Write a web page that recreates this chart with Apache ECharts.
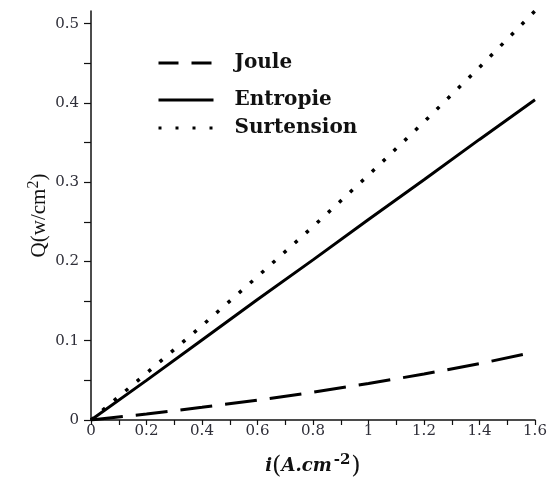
<!DOCTYPE html>
<html>
<head>
<meta charset="utf-8">
<script src="https://cdn.jsdelivr.net/npm/echarts@6/dist/echarts.min.js"></script>
<style>
html,body{margin:0;padding:0;background:#fff;}
#chart{width:550px;height:477px;}
</style>
</head>
<body>
<div id="chart"></div>
<script>
// Data
const currentI = [0, 0.2, 0.4, 0.6, 0.8, 1.0, 1.2, 1.4, 1.6];
const joule = [0, 0.0075, 0.016, 0.025, 0.035, 0.046, 0.058, 0.071, 0.086];
const entropie = [0, 0.05, 0.101, 0.152, 0.202, 0.253, 0.303, 0.354, 0.404];
const surtension = [0, 0.059, 0.119, 0.181, 0.244, 0.309, 0.376, 0.445, 0.516];
const seriesNames = ['Joule', 'Entropie', 'Surtension'];
const xTickLabels = [0, 0.2, 0.4, 0.6, 0.8, 1.0, 1.2, 1.4, 1.6];
const xTicks = [0, 0.1, 0.2, 0.3, 0.4, 0.5, 0.6, 0.7, 0.8, 0.9, 1.0, 1.1, 1.2, 1.3, 1.4, 1.5, 1.6];
const yTickLabels = [0, 0.1, 0.2, 0.3, 0.4, 0.5];
const yTicks = [0, 0.05, 0.1, 0.15, 0.2, 0.25, 0.3, 0.35, 0.4, 0.45, 0.5];

const pairs = (ys) => currentI.map((x, k) => [x, ys[k]]);

const labelColor = '#2e2e38';
const axisColor = '#111';

const legendText = {
  fontFamily: 'DejaVu Serif',
  fontWeight: 'bold',
  fontSize: 20,
  color: '#111',
  lineHeight: 22,
  padding: [0, 0, 0, 16]
};

function makeLegend(name, top, lineType) {
  return {
    data: [name],
    left: 157,
    top: top,
    orient: 'vertical',
    itemWidth: 55,
    itemHeight: 14,
    padding: 0,
    selectedMode: false,
    textStyle: legendText,
    itemStyle: { opacity: 0, borderWidth: 0 },
    lineStyle: { type: lineType, width: 3, color: '#000' }
  };
}

const chart = echarts.init(document.getElementById('chart'), null, { renderer: 'canvas' });
chart.setOption({
  animation: false,
  backgroundColor: '#fff',
  grid: { left: 91, right: 15, top: 11, bottom: 57, containLabel: false, outerBoundsMode: 'none' },
  legend: [
    makeLegend(seriesNames[0], 52, [20, 13]),
    makeLegend(seriesNames[1], 89, 'solid'),
    makeLegend(seriesNames[2], 117, [3, 14])
  ],
  xAxis: {
    type: 'value',
    min: 0,
    max: 1.6,
    interval: 0.2,
    axisLine: { show: true, onZero: false, lineStyle: { color: axisColor, width: 1.5 } },
    axisTick: { show: true, inside: false, length: 5, customValues: xTicks, lineStyle: { color: axisColor, width: 1.2 } },
    axisLabel: {
      customValues: xTickLabels,
      margin: 4,
      fontFamily: 'DejaVu Serif',
      fontSize: 15,
      color: labelColor
    },
    splitLine: { show: false },
    name: '{i|i}{p|(}{a|A.cm}{s|-2}{p|)}',
    nameLocation: 'middle',
    nameGap: 33,
    nameTextStyle: {
      rich: {
        i: { fontFamily: 'DejaVu Serif', fontStyle: 'italic', fontWeight: 'bold', fontSize: 18, color: '#111' },
        a: { fontFamily: 'DejaVu Serif', fontStyle: 'italic', fontWeight: 'bold', fontSize: 18, color: '#111' },
        p: { fontFamily: 'DejaVu Serif', fontSize: 24, color: '#111' },
        s: { fontFamily: 'DejaVu Serif', fontWeight: 'bold', fontSize: 15, color: '#111', padding: [0, 1, 12, 2] }
      }
    }
  },
  yAxis: {
    type: 'value',
    min: 0,
    max: 0.516,
    interval: 0.1,
    axisLine: { show: true, onZero: false, lineStyle: { color: axisColor, width: 1.5 } },
    axisTick: { show: true, inside: false, length: 7, customValues: yTicks, lineStyle: { color: axisColor, width: 1.2 } },
    axisLabel: {
      customValues: yTickLabels,
      margin: 12,
      fontFamily: 'DejaVu Serif',
      fontSize: 15,
      color: labelColor
    },
    splitLine: { show: false },
    name: '{q|Q(w/cm}{s|2}{q|)}',
    nameLocation: 'middle',
    nameRotate: 90,
    nameGap: 38,
    nameMoveOverlap: false,
    nameTextStyle: {
      rich: {
        q: { fontFamily: 'Liberation Serif', fontSize: 21, color: '#111' },
        s: { fontFamily: 'Liberation Serif', fontSize: 16, color: '#111', padding: [0, 0, 11, 0] }
      }
    }
  },
  series: [
    {
      name: seriesNames[0],
      type: 'line',
      data: pairs(joule),
      symbol: 'none',
      color: '#000',
      lineStyle: { color: '#000', width: 3, type: [32, 13] }
    },
    {
      name: seriesNames[1],
      type: 'line',
      data: pairs(entropie),
      symbol: 'none',
      color: '#000',
      lineStyle: { color: '#000', width: 3, type: 'solid' }
    },
    {
      name: seriesNames[2],
      type: 'line',
      data: pairs(surtension),
      symbol: 'none',
      color: '#000',
      lineStyle: { color: '#000', width: 3.5, type: [3.5, 11.5] }
    }
  ]
});
</script>
</body>
</html>
